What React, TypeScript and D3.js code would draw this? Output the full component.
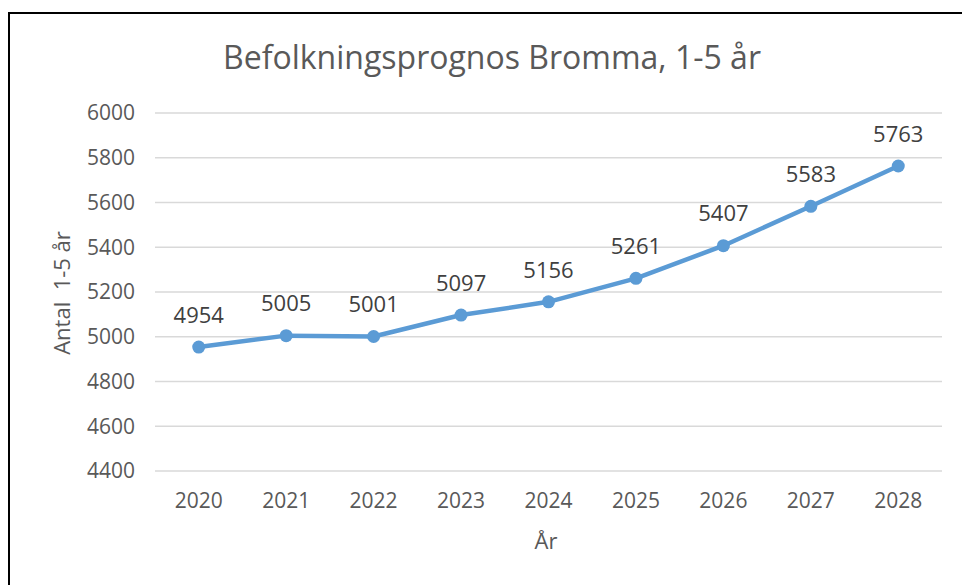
import * as d3 from 'd3';
import { useEffect, useRef } from 'react';

const years = ['2020', '2021', '2022', '2023', '2024', '2025', '2026', '2027', '2028'];
const population = [4954, 5005, 5001, 5097, 5156, 5261, 5407, 5583, 5763];
const yTicks = [4400, 4600, 4800, 5000, 5200, 5400, 5600, 5800, 6000];

const title = 'Befolkningsprognos Bromma, 1-5 år';
const xLabel = 'År';
const yLabel = 'Antal  1-5 år';

export default function App() {
  const svgRef = useRef<SVGSVGElement>(null);

  useEffect(() => {
    if (!svgRef.current) return;
    const svg = d3.select(svgRef.current);
    svg.selectAll('*').remove();

    const font = '"Open Sans", sans-serif';
    const textColor = '#595959';
    const lineColor = '#5B9BD5';

    const left = 155;
    const right = 942;
    const top = 113;
    const bottom = 471;

    // frame (only left and top edges are visible in the crop)
    svg.append('line').attr('x1', 9).attr('x2', 962).attr('y1', 13).attr('y2', 13)
      .attr('stroke', '#000').attr('stroke-width', 2);
    svg.append('line').attr('x1', 9).attr('x2', 9).attr('y1', 12).attr('y2', 585)
      .attr('stroke', '#000').attr('stroke-width', 2);

    const x = d3.scaleBand().domain(years).range([left, right]);
    const y = d3.scaleLinear().domain([4400, 6000]).range([bottom, top]);

    // gridlines
    svg.append('g')
      .selectAll('line')
      .data(yTicks)
      .enter()
      .append('line')
      .attr('x1', left)
      .attr('x2', right)
      .attr('y1', (d) => y(d))
      .attr('y2', (d) => y(d))
      .attr('stroke', '#d9d9d9')
      .attr('stroke-width', 1.5);

    // y tick labels
    svg.append('g')
      .selectAll('text')
      .data(yTicks)
      .enter()
      .append('text')
      .attr('x', 135)
      .attr('y', (d) => y(d))
      .attr('dy', '0.35em')
      .attr('text-anchor', 'end')
      .style('font-family', font)
      .style('font-size', '21px')
      .attr('fill', textColor)
      .text((d) => d);

    // x tick labels
    svg.append('g')
      .selectAll('text')
      .data(years)
      .enter()
      .append('text')
      .attr('x', (d) => (x(d) as number) + x.bandwidth() / 2)
      .attr('y', 501)
      .attr('dy', '0.35em')
      .attr('text-anchor', 'middle')
      .style('font-family', font)
      .style('font-size', '21px')
      .attr('fill', textColor)
      .text((d) => d);

    const pts = years.map((yr, i) => ({ yr, v: population[i] }));
    const cx = (d: { yr: string }) => (x(d.yr) as number) + x.bandwidth() / 2;

    const line = d3.line<{ yr: string; v: number }>()
      .x((d) => cx(d))
      .y((d) => y(d.v));

    svg.append('path')
      .datum(pts)
      .attr('fill', 'none')
      .attr('stroke', lineColor)
      .attr('stroke-width', 4.5)
      .attr('stroke-linejoin', 'round')
      .attr('d', line);

    svg.append('g')
      .selectAll('circle')
      .data(pts)
      .enter()
      .append('circle')
      .attr('cx', cx)
      .attr('cy', (d) => y(d.v))
      .attr('r', 6.5)
      .attr('fill', lineColor);

    // data labels
    svg.append('g')
      .selectAll('text')
      .data(pts)
      .enter()
      .append('text')
      .attr('x', cx)
      .attr('y', (d) => y(d.v) - 32)
      .attr('dy', '0.35em')
      .attr('text-anchor', 'middle')
      .style('font-family', font)
      .style('font-size', '22px')
      .attr('fill', '#404040')
      .text((d) => d.v);

    // title
    svg.append('text')
      .attr('x', 492)
      .attr('y', 58)
      .attr('dy', '0.35em')
      .attr('text-anchor', 'middle')
      .style('font-family', font)
      .style('font-size', '32px')
      .attr('fill', textColor)
      .text(title);

    // axis titles
    svg.append('text')
      .attr('x', 546)
      .attr('y', 541)
      .attr('dy', '0.35em')
      .attr('text-anchor', 'middle')
      .style('font-family', font)
      .style('font-size', '22px')
      .attr('fill', textColor)
      .text(xLabel);

    svg.append('text')
      .attr('transform', 'translate(62,293) rotate(-90)')
      .attr('dy', '0.35em')
      .attr('text-anchor', 'middle')
      .style('font-family', font)
      .style('font-size', '22px')
      .attr('fill', textColor)
      .style('white-space', 'pre')
      .text(yLabel);
  }, []);

  return (
    <svg
      ref={svgRef}
      width={962}
      height={585}
      style={{ position: 'absolute', left: 0, top: 0, background: '#fff', display: 'block' }}
    />
  );
}
